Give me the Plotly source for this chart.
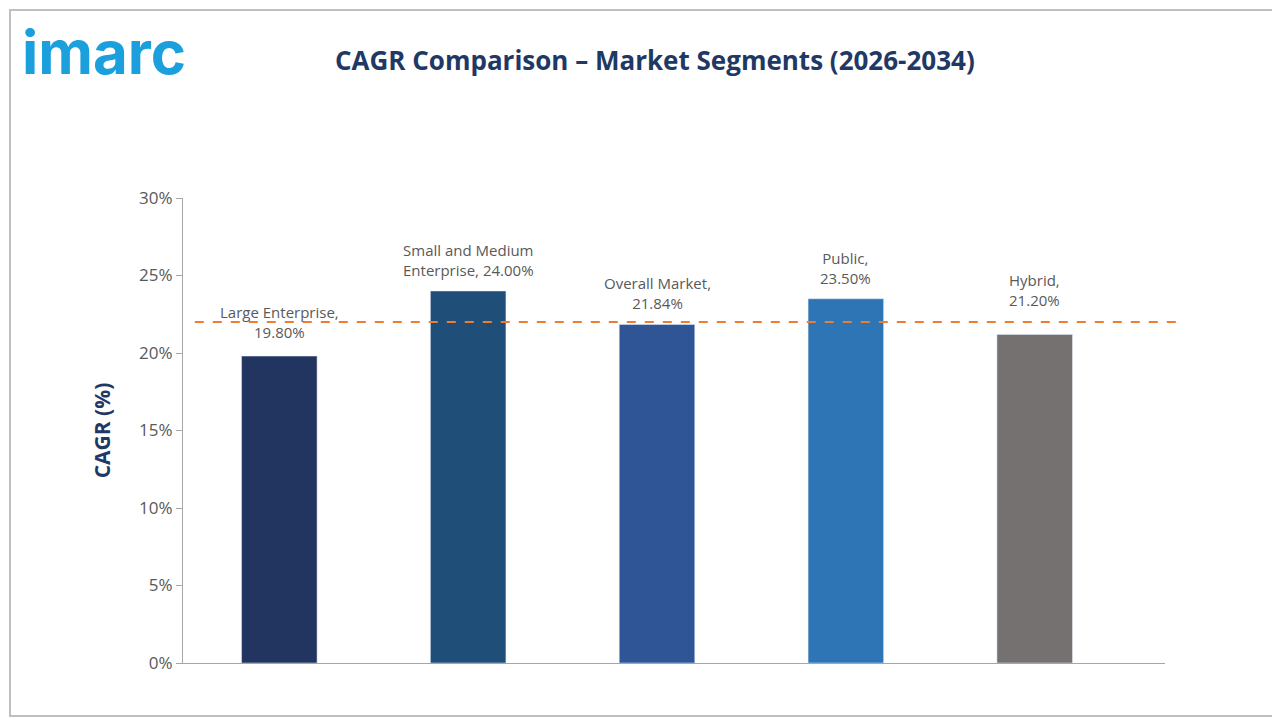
import plotly.graph_objects as go

segments = ["Large Enterprise", "Small and Medium Enterprise", "Overall Market", "Public", "Hybrid"]
cagr = [19.80, 24.00, 21.84, 23.50, 21.20]
bar_colors = ["#213560", "#1f4e79", "#2f5597", "#2e75b6", "#767171"]
label_text = ["Large Enterprise,<br>19.80%", "Small and Medium<br>Enterprise, 24.00%",
              "Overall Market,<br>21.84%", "Public,<br>23.50%", "Hybrid,<br>21.20%"]
label_shift = [12, 9, 9, 9, 22]
reference_line = 22.0

L, R, T, B = 175, 123, 190, 65
PW, PH = 1280 - L - R, 720 - T - B

fig = go.Figure(go.Bar(
    x=list(range(len(segments))), y=cagr,
    marker_color=bar_colors, width=0.4,
    hovertext=segments,
))
for i, (v, t, s) in enumerate(zip(cagr, label_text, label_shift)):
    fig.add_annotation(x=i, y=v, text=t, showarrow=False, yanchor="bottom", yshift=s,
                       font=dict(size=15, color="#595959"))
fig.update_layout(
    width=1280, height=720,
    paper_bgcolor="#ffffff", plot_bgcolor="#ffffff",
    font=dict(family="Open Sans", color="#595959"),
    margin=dict(l=L, r=R, t=T, b=B),
    showlegend=False,
    xaxis=dict(range=[-0.51, 4.69], showticklabels=False, showline=True,
               linecolor="#a6a6a6", ticks="", showgrid=False, zeroline=False),
    yaxis=dict(range=[0, 30], dtick=5, ticksuffix="%", showgrid=False, showline=True,
               linecolor="#a6a6a6", ticks="outside", ticklen=6, tickcolor="#a6a6a6",
               tickfont=dict(size=17, color="#595959"), zeroline=False,
               title=dict(text="<b>CAGR (%)</b>", font=dict(size=21, color="#1f3864"), standoff=22)),
)
fig.add_shape(type="line", xref="paper", x0=0.012, x1=1.018, y0=reference_line, y1=reference_line,
              line=dict(color="#ed7d31", width=1.8, dash="dash"))
fig.add_shape(type="rect", xref="paper", yref="paper", x0=-(L - 2) / PW, x1=1 + (R - 12) / PW,
              y0=-(B - 12) / PH, y1=1 + (T - 2) / PH, line=dict(color="#bfbfbf", width=2))
fig.add_annotation(text="<b>CAGR Comparison – Market Segments (2026-2034)</b>",
                   xref="paper", yref="paper", x=(655 - 8 - L) / PW, y=1 + (T - 52) / PH,
                   xanchor="center", yanchor="middle", showarrow=False,
                   font=dict(size=26, color="#1f3864"))
fig.add_annotation(text="<b>imarc</b>", xref="paper", yref="paper",
                   x=(12 - L) / PW, y=1 + (T - 44) / PH, xanchor="left", yanchor="middle",
                   showarrow=False, font=dict(size=60, color="#1ba0dd", family="Inter"))
fig.write_html("out.html")
